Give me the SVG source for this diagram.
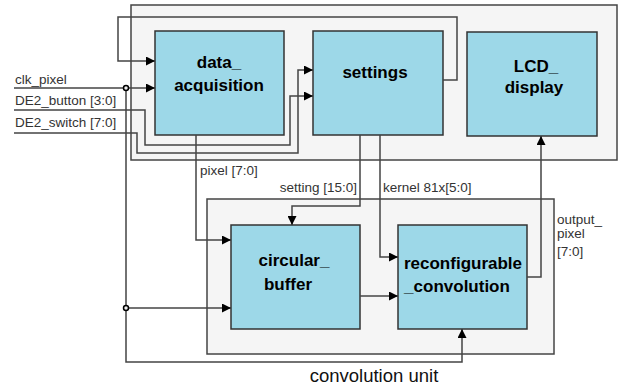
<svg xmlns="http://www.w3.org/2000/svg" width="620" height="391" viewBox="0 0 620 391">
<style>
.cont{fill:#f5f5f5;stroke:#444;stroke-width:1.5}
.node{fill:#9dd8e8;stroke:#333;stroke-width:1.5}
.w{fill:none;stroke:#444;stroke-width:1.5}
.lbl{font-family:"Liberation Sans",Arial,sans-serif;font-size:13.5px;fill:#333}
.nt{font-family:"Liberation Sans",Arial,sans-serif;font-size:17px;font-weight:bold;fill:#000;text-anchor:middle}
.dot{fill:#eee;stroke:#000;stroke-width:1.5}
</style>
<defs>
<marker id="ah" viewBox="0 0 10 10" refX="10" refY="5" markerWidth="9" markerHeight="9" markerUnits="userSpaceOnUse" orient="auto">
<path d="M0,0 L10,5 L0,10 z" fill="#000"/>
</marker>
</defs>
<g id="top_unit"><rect class="cont" x="131" y="5" width="486" height="155"/></g>
<g id="convolution_unit"><rect class="cont" x="207" y="199" width="347" height="155"/>
<text x="374" y="382" style="font-family:'Liberation Sans',Arial,sans-serif;font-size:18.5px;fill:#111;text-anchor:middle">convolution unit</text></g>
<g id="data_acquisition"><rect class="node" x="155" y="31" width="129" height="104"/>
<text class="nt" x="219" y="68">data_</text><text class="nt" x="219" y="91">acquisition</text></g>
<g id="settings"><rect class="node" x="313" y="31" width="130" height="104"/>
<text class="nt" x="375" y="78">settings</text></g>
<g id="LCD_display"><rect class="node" x="467" y="32" width="130" height="104"/>
<text class="nt" x="536" y="72">LCD_</text><text class="nt" x="534" y="93">display</text></g>
<g id="circular_buffer"><rect class="node" x="231" y="225" width="129" height="104"/>
<text class="nt" x="294" y="266">circular_</text><text class="nt" x="288" y="290">buffer</text></g>
<g id="reconfigurable_convolution"><rect class="node" x="398" y="225" width="129" height="104"/>
<text class="nt" x="463" y="269">reconfigurable</text><text class="nt" x="457" y="292">_convolution</text></g>
<g id="connectors">
<polyline class="w" points="443,80 457,80 457,17 118,17 118,61 155,61" marker-end="url(#ah)"/>
<polyline class="w" points="14,88 155,88" marker-end="url(#ah)"/>
<polyline class="w" points="126,88 126,362 462,362 462,329" marker-end="url(#ah)"/>
<polyline class="w" points="126,308 231,308" marker-end="url(#ah)"/>
<polyline class="w" points="14,110 145,110 145,145 290,145 290,96 313,96" marker-end="url(#ah)"/>
<polyline class="w" points="14,133 137,133 137,153 298,153 298,70 313,70" marker-end="url(#ah)"/>
<polyline class="w" points="196,135 196,240 231,240" marker-end="url(#ah)"/>
<polyline class="w" points="360,135 360,206 292,206 292,225" marker-end="url(#ah)"/>
<polyline class="w" points="380,135 380,257 398,257" marker-end="url(#ah)"/>
<polyline class="w" points="360,296 398,296" marker-end="url(#ah)"/>
<polyline class="w" points="527,277 541,277 541,136" marker-end="url(#ah)"/>
<circle class="dot" cx="126" cy="88" r="2.5"/>
<circle class="dot" cx="126" cy="308" r="2.5"/>
<text class="lbl" x="15" y="84">clk_pixel</text>
<text class="lbl" x="15" y="105">DE2_button [3:0]</text>
<text class="lbl" x="15" y="127">DE2_switch [7:0]</text>
<text class="lbl" x="200" y="175">pixel [7:0]</text>
<text class="lbl" x="357" y="192" text-anchor="end">setting [15:0]</text>
<text class="lbl" x="383" y="192">kernel 81x[5:0]</text>
<text class="lbl" x="557" y="224">output_</text>
<text class="lbl" x="557" y="238">pixel</text>
<text class="lbl" x="557" y="256">[7:0]</text>
</g>
</svg>
